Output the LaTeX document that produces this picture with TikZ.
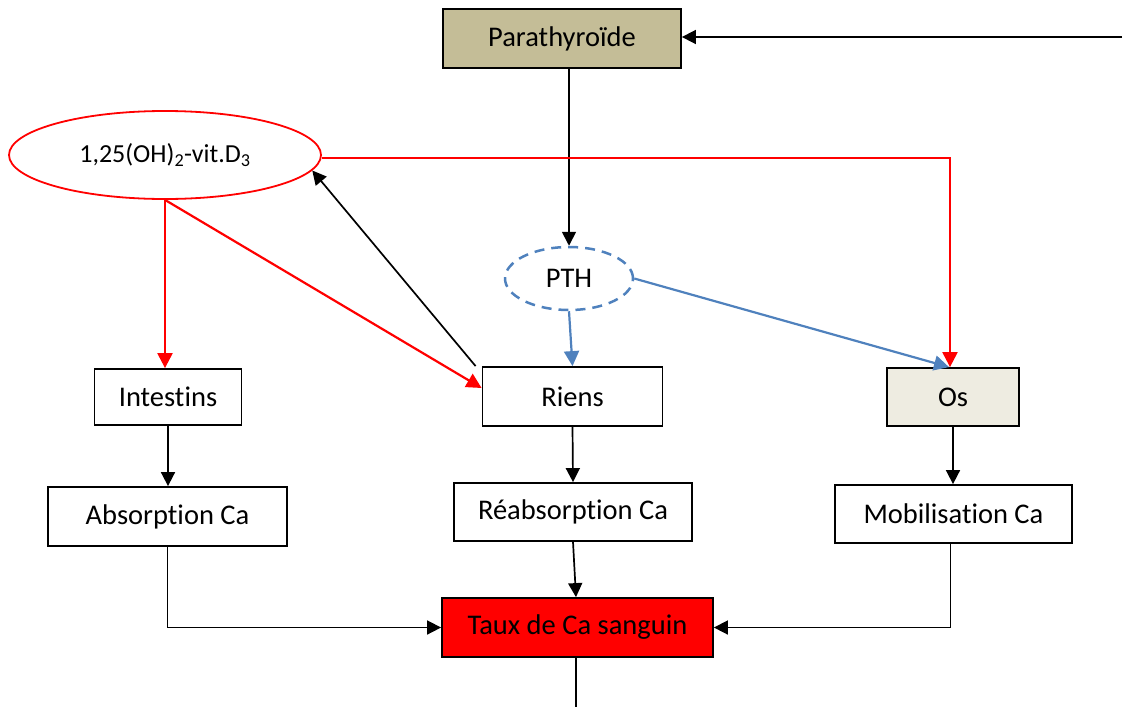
\documentclass[tikz,border=0pt]{standalone}
\usepackage{fontspec}
\setmainfont{Carlito}[Ligatures=NoCommon]
\usetikzlibrary{arrows.meta,shapes.geometric,calc}
\definecolor{tanfill}{HTML}{C4BD97}
\definecolor{osfill}{HTML}{EEECE1}
\definecolor{pthblue}{HTML}{4F81BD}
\begin{document}
\begin{tikzpicture}[x=1pt,y=-1pt,
  box/.style={draw=black,line width=1.8pt,rectangle,inner sep=0pt,font=\fontsize{28.5}{34}\selectfont},
  conn/.style={line width=1.7pt,draw=black,-{Triangle[length=14pt,width=14pt]}},
  plain/.style={line width=1.7pt,draw=black},
  redconn/.style={line width=2.2pt,draw=red,-{Triangle[length=15pt,width=15pt]}},
  blueconn/.style={line width=2.2pt,draw=pthblue,-{Triangle[length=15pt,width=15pt]}}]
\useasboundingbox (0,0) rectangle (1134,707);
% nodes
\node[box,fill=tanfill,minimum width=238pt,minimum height=59pt] (para) at (562,38.5) {Parathyroïde};
\node[draw=red,line width=1.8pt,ellipse,minimum width=312pt,minimum height=88pt,inner sep=0pt,font=\fontsize{26}{30}\selectfont] (vitd) at (165,155) {1,25(OH)\textsubscript{2}-vit.D\textsubscript{3}};
\node[draw=pthblue,line width=2.5pt,dash pattern=on 10pt off 7pt,ellipse,minimum width=128pt,minimum height=63pt,inner sep=0pt,font=\fontsize{28.5}{34}\selectfont] (pth) at (569,278.5) {PTH};
\node[box,minimum width=147pt,minimum height=56pt] (int) at (168,397) {Intestins};
\node[box,minimum width=180pt,minimum height=59pt] (riens) at (572.5,396.5) {Riens};
\node[box,fill=osfill,minimum width=132pt,minimum height=58pt] (os) at (953,397) {Os};
\node[box,minimum width=239pt,minimum height=59pt] (abs) at (167.5,516.5) {Absorption Ca};
\node[box,minimum width=238pt,minimum height=58pt] (reab) at (573,512) {Réabsorption Ca};
\node[box,minimum width=237pt,minimum height=58pt] (mob) at (953.5,514) {Mobilisation Ca};
\node[box,fill=red,minimum width=271pt,minimum height=59pt] (taux) at (577.5,627.5) {Taux de Ca sanguin};
\coordinate (feedin) at (1122,37);
\coordinate (bottom) at (576,707);
% connectors
\draw[conn] (feedin) -- (feedin -| para.east);
\draw[conn] (pth.north |- para.south) -- (pth.north);
\draw[blueconn] (pth.south) -- (riens.north);
\draw[blueconn] (pth.east) -- ([xshift=-4pt]os.north);
\draw[redconn] (vitd.-1.85) -| ([xshift=-3pt]os.north);
\draw[redconn] (vitd.south) -- (vitd.south |- int.north);
\draw[redconn] (vitd.south) -- ([yshift=8.5pt]riens.west);
\draw[conn] ([xshift=-6pt]riens.north west) -- (vitd.-6.7);
\draw[conn] (int.south) -- (abs.north -| int.south);
\draw[conn] (riens.south) -- (reab.north);
\draw[conn] (os.south) -- (mob.north -| os.south);
\draw[conn] (abs.south) |- (taux.west);
\draw[conn] (reab.south) -- ([xshift=-1.5pt]taux.north);
\draw[conn] ([xshift=-3pt]mob.south) |- (taux.east);
\draw[plain] ([xshift=-1.5pt]taux.south) -- (bottom);
\end{tikzpicture}
\end{document}
